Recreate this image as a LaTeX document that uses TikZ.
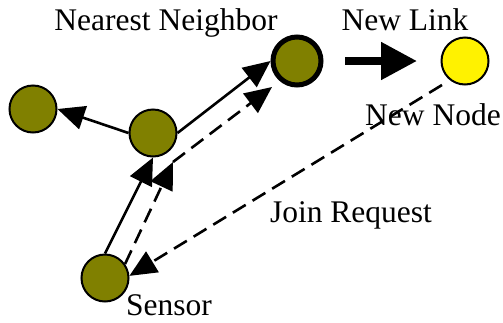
\documentclass[tikz,border=0pt]{standalone}
\usepackage{fontspec}
\setmainfont{Liberation Serif}
\usetikzlibrary{arrows.meta,calc}

\definecolor{olive}{RGB}{128,128,0}
\tikzset{
  sensornode/.style={circle, draw=black, line width=2pt, fill=olive,
    minimum size=47pt, inner sep=0pt},
  neighbornode/.style={sensornode, line width=5pt, minimum size=48pt},
  newnode/.style={sensornode, fill=yellow},
  lbl/.style={anchor=base, inner sep=0pt, font=\fontsize{31.5}{36}\selectfont},
  link/.style={line width=2.6pt, -{Triangle[length=27pt 0 0,width=24pt 0 0]}},
  request/.style={link, dash pattern=on 15pt off 8pt},
  biglink/.style={line width=8pt, -{Triangle[length=36pt 0 0,width=36pt 0 0]}}
}

\begin{document}
\begin{tikzpicture}[x=1pt,y=-1pt]
  \useasboundingbox (0,0) rectangle (503,322);

  % sensors
  \node[sensornode] (left)   at (33,109)  {};
  \node[sensornode] (mid)    at (153,133) {};
  \node[neighbornode] (nn)   at (297,61)  {};
  \node[newnode]    (new)    at (465,61)  {};
  \node[sensornode] (sensor) at (105,278) {};

  % labels
  \node[lbl] (lnn)   at (166,30)  {Nearest Neighbor};
  \node[lbl] (llink) at (405,30)  {New Link};
  \node[lbl] (lnew)  at (433,125) {New Node};
  \node[lbl] (ljoin) at (351,222) {Join Request};
  \node[lbl] (lsens) at (169,315) {Sensor};

  % routing tree
  \draw[link] (mid.west) -- (left.east);
  \draw[link] (mid.east) -- (nn.west);
  \draw[link] (sensor.north) -- (mid.south);

  % join request and its forwarding
  \coordinate (bend)    at ($(mid)+(20,29)$);
  \coordinate (nnend)   at ($(nn)+(-25,26)$);
  \coordinate (newfrom) at ($(new)+(-23,24)$);
  \draw[request] (newfrom) -- (sensor.5);
  \draw[request] (sensor.35) -- (bend);
  \draw[request] (bend) -- (nnend);

  % new link
  \coordinate (nlfrom) at (345,61);
  \coordinate (nlto)   at (417,61);
  \draw[biglink] (nlfrom) -- (nlto);
\end{tikzpicture}
\end{document}
